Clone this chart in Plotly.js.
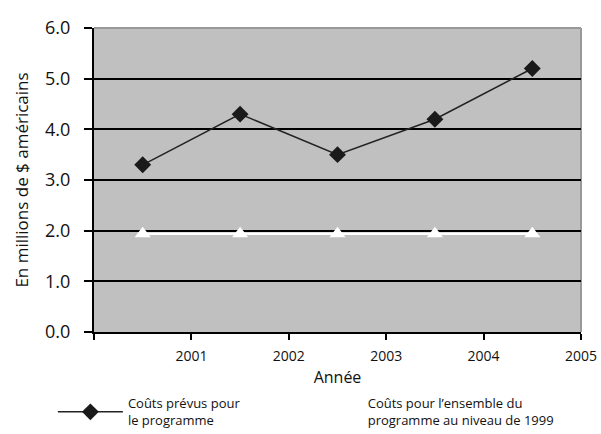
<!DOCTYPE html>
<html><head><meta charset="utf-8">
<script src="https://cdn.plot.ly/plotly-3.0.1.min.js"></script>
<style>html,body{margin:0;padding:0;background:#fff}#c{width:601px;height:434px}</style>
</head><body><div id="c"></div>
<script>
const xPositions = [2000.5, 2001.5, 2002.5, 2003.5, 2004.5];
const plannedCosts = [3.3, 4.3, 3.5, 4.2, 5.2];
const baselineCosts = [1.94, 1.94, 1.94, 1.94, 1.94];
const tickYears = [2000, 2001, 2002, 2003, 2004, 2005];
const tickLabels = ['', '2001', '2002', '2003', '2004', '2005'];
const seriesNames = ['Coûts prévus pour<br>le programme', 'Coûts pour l’ensemble du<br>programme au niveau de 1999'];

const FONT = '"Open Sans", "Noto Sans", sans-serif';
const traces = [
  {x: xPositions, y: plannedCosts, name: seriesNames[0], type: 'scatter', mode: 'lines+markers',
   legend: 'legend',
   line: {color: '#222', width: 1.5},
   marker: {symbol: 'diamond', size: 13, color: '#1a1a1a'}},
  {x: xPositions, y: baselineCosts, name: seriesNames[1], type: 'scatter', mode: 'lines+markers',
   legend: 'legend2',
   line: {color: '#ffffff', width: 2.5},
   marker: {symbol: 'triangle-up', size: 14, color: '#ffffff'}}
];
const legendBase = {orientation: 'h', xref: 'container', yref: 'container', xanchor: 'left', yanchor: 'top',
  y: 0.105, itemwidth: 65, font: {size: 13, family: FONT, color: '#111'},
  bgcolor: 'rgba(0,0,0,0)', borderwidth: 0, itemclick: false};
const layout = {
  width: 601, height: 434,
  margin: {l: 94, r: 20, t: 28, b: 102, autoexpand: false},
  paper_bgcolor: '#ffffff', plot_bgcolor: '#c0c0c0',
  font: {family: FONT, color: '#111'},
  showlegend: true,
  xaxis: {range: [2000, 2005], tickvals: tickYears, ticktext: tickLabels,
    showgrid: false, zeroline: false, showline: true, linecolor: '#000', linewidth: 2,
    ticks: 'outside', ticklen: 6, tickwidth: 2, tickcolor: '#000', ticklabelstandoff: 4,
    tickfont: {size: 14, family: FONT, color: '#111'},
    title: {text: 'Année', font: {size: 16, family: FONT, color: '#111'}, standoff: 8}},
  yaxis: {range: [0, 6], dtick: 1, tickformat: '.1f',
    showgrid: true, gridcolor: '#000', gridwidth: 2, zeroline: false,
    showline: true, linecolor: '#000', linewidth: 2,
    ticks: 'outside', ticklen: 8, tickwidth: 2, tickcolor: '#000', ticklabelstandoff: 10,
    tickfont: {size: 18, family: FONT, color: '#111'},
    title: {text: 'En millions de $ américains', font: {size: 17, family: FONT, color: '#111'}, standoff: 12}},
  shapes: [
    {type: 'line', xref: 'paper', yref: 'paper', x0: 0, x1: 1, y0: 1, y1: 1, layer: 'between', line: {color: '#999', width: 2}},
    {type: 'line', xref: 'paper', yref: 'paper', x0: 1, x1: 1, y0: 0, y1: 1, layer: 'between', line: {color: '#999', width: 2}}
  ],
  legend: Object.assign({}, legendBase, {x: 0.088}),
  legend2: Object.assign({}, legendBase, {x: 0.487})
};
Plotly.newPlot('c', traces, layout, {displayModeBar: false, staticPlot: true});
</script></body></html>
